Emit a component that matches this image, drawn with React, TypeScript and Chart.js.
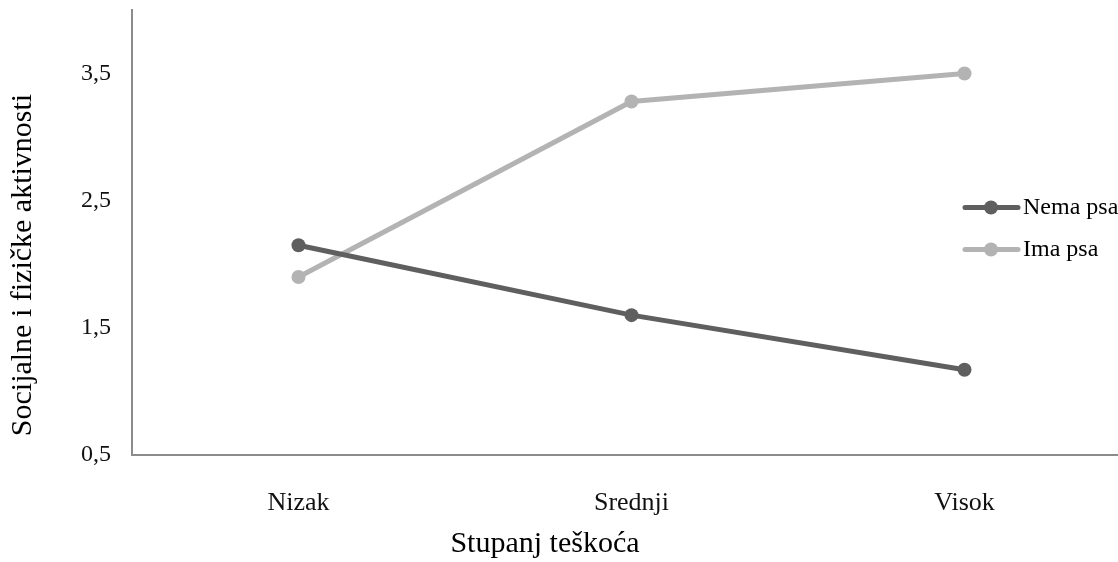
import React, { useEffect, useRef } from "react";
import { Chart, registerables } from "chart.js";

Chart.register(...registerables);

const categories = ["Nizak", "Srednji", "Visok"];
const nemaPsa = [2.15, 1.6, 1.17];
const imaPsa = [1.9, 3.28, 3.5];
const yTickValues = [0.5, 1.5, 2.5, 3.5];
const yTickLabels = ["0,5", "1,5", "2,5", "3,5"];
const seriesNames = ["Nema psa", "Ima psa"];
const seriesColors = ["#5f5f5f", "#b3b3b3"];
const xTitle = "Stupanj teškoća";
const yTitle = "Socijalne i fizičke aktivnosti";

const FONT = "'Liberation Serif', 'Times New Roman', serif";

const overlayPlugin = {
  id: "overlay",
  afterDraw(chart: any) {
    const ctx = chart.ctx as CanvasRenderingContext2D;
    ctx.save();
    // axis titles
    ctx.fillStyle = "#000";
    ctx.font = `30px ${FONT}`;
    ctx.textAlign = "center";
    ctx.textBaseline = "middle";
    ctx.fillText(xTitle, 545, 544);
    ctx.save();
    ctx.translate(23, 265);
    ctx.rotate(-Math.PI / 2);
    ctx.fillText(yTitle, 0, 0);
    ctx.restore();
    // legend
    const rows = [207.5, 249.5];
    chart.data.datasets.forEach((ds: any, i: number) => {
      const y = rows[i];
      ctx.strokeStyle = ds.borderColor;
      ctx.lineWidth = 5;
      ctx.lineCap = "round";
      ctx.beginPath();
      ctx.moveTo(965, y);
      ctx.lineTo(1018, y);
      ctx.stroke();
      ctx.fillStyle = ds.borderColor;
      ctx.beginPath();
      ctx.arc(991, y, 7, 0, Math.PI * 2);
      ctx.fill();
      ctx.fillStyle = "#000";
      ctx.font = `24px ${FONT}`;
      ctx.textAlign = "left";
      ctx.textBaseline = "middle";
      ctx.fillText(ds.label, 1023, y);
    });
    ctx.restore();
  },
};

export default function App() {
  const ref = useRef<HTMLCanvasElement>(null);
  useEffect(() => {
    if (!ref.current) return;
    const chart = new Chart(ref.current, {
      type: "line",
      data: {
        labels: categories,
        datasets: [
          {
            label: seriesNames[0],
            data: nemaPsa,
            borderColor: seriesColors[0],
            backgroundColor: seriesColors[0],
            borderWidth: 5,
            pointRadius: 7,
            pointBorderWidth: 0,
            pointBackgroundColor: seriesColors[0],
            tension: 0,
          },
          {
            label: seriesNames[1],
            data: imaPsa,
            borderColor: seriesColors[1],
            backgroundColor: seriesColors[1],
            borderWidth: 5,
            pointRadius: 7,
            pointBorderWidth: 0,
            pointBackgroundColor: seriesColors[1],
            tension: 0,
          },
        ],
      },
      options: {
        responsive: false,
        animation: false,
        layout: { padding: { top: 10, right: 9, left: 0, bottom: 0 } },
        plugins: {
          legend: { display: false },
          tooltip: { enabled: false },
        },
        scales: {
          x: {
            type: "category",
            offset: true,
            grid: { display: false, drawTicks: false },
            border: { display: true, color: "#8c8c8c", width: 2 },
            ticks: {
              color: "#111",
              font: { family: FONT, size: 26 },
              padding: 33,
            },
            afterFit: (s: any) => {
              s.height = 107;
              s.paddingLeft = 0;
              s.paddingRight = 0;
            },
          },
          y: {
            min: 0.5,
            max: 4,
            grid: { display: false, drawTicks: false },
            border: { display: true, color: "#8c8c8c", width: 2 },
            afterBuildTicks: (s: any) => {
              s.ticks = yTickValues.map((v) => ({ value: v }));
            },
            ticks: {
              color: "#111",
              font: { family: FONT, size: 24 },
              padding: 21,
              callback: (v: any) => {
                const i = yTickValues.indexOf(Number(v));
                return i >= 0 ? yTickLabels[i] : "";
              },
            },
            afterFit: (s: any) => {
              s.width = 132;
              s.paddingTop = 0;
              s.paddingBottom = 0;
            },
          },
        },
      },
      plugins: [overlayPlugin],
    });
    return () => chart.destroy();
  }, []);
  return (
    <div
      style={{
        position: "absolute",
        left: 0,
        top: 0,
        width: 1118,
        height: 562,
        overflow: "hidden",
        background: "#fff",
      }}
    >
      <canvas
        ref={ref}
        width={1140}
        height={562}
        style={{ width: 1140, height: 562, display: "block" }}
      />
    </div>
  );
}
